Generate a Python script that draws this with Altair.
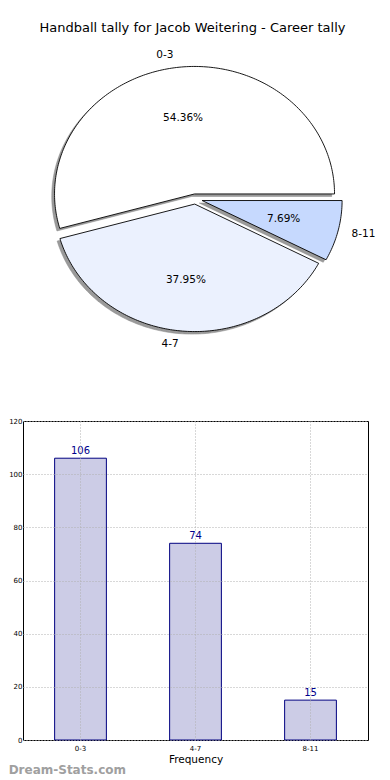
import math
import altair as alt
import pandas as pd

# ---------------- data ----------------
labels = ["0-3", "4-7", "8-11"]
counts = [106, 74, 15]
explode = [0.04, 0.04, 0.05]
pie_colors = ["#ffffff", "#ebf1fe", "#c6d9fe"]
title_text = "Handball tally for Jacob Weitering - Career tally"

FONT = "DejaVu Sans"
total = sum(counts)

# ---------------- pie geometry (unit circle, matplotlib-style, CCW from east) ----------------
poly_rows, shadow_rows, pct_rows, lab_rows = [], [], [], []
start = 0.0
for i, (lab, c, ex) in enumerate(zip(labels, counts, explode)):
    a0 = start
    a1 = start + 360.0 * c / total
    start = a1
    mid = math.radians((a0 + a1) / 2)
    cx, cy = ex * math.cos(mid), ex * math.sin(mid)
    n = max(int(a1 - a0), 2)
    pts = [(cx, cy)]
    for k in range(n + 1):
        t = math.radians(a0 + (a1 - a0) * k / n)
        pts.append((cx + math.cos(t), cy + math.sin(t)))
    pts.append((cx, cy))
    for j, (px, py) in enumerate(pts):
        poly_rows.append({"slice": lab, "i": j, "x": px, "y": py})
        shadow_rows.append({"slice": lab, "i": j, "x": px - 0.02, "y": py - 0.02})
    pct_rows.append({"slice": lab, "x": cx + 0.6 * math.cos(mid), "y": cy + 0.6 * math.sin(mid),
                     "txt": f"{100.0 * c / total:.2f}%"})
    lx, ly = cx + 1.1 * math.cos(mid), cy + 1.1 * math.sin(mid)
    lab_rows.append({"slice": lab, "x": lx, "y": ly, "side": "left" if lx > 0 else "right"})

poly = pd.DataFrame(poly_rows)
shadow = pd.DataFrame(shadow_rows)
pct = pd.DataFrame(pct_rows)
labdf = pd.DataFrame(lab_rows)

# ---------------- layout ----------------
W = 345
PIE_H = 320
BAR_H = 319
RX, RY = 140.0, 127.5
CX_PX, CY_PX = 172.3, 160.0   # pie centre within the pie panel
xdom = [-CX_PX / RX, (W - CX_PX) / RX]
ydom = [-(PIE_H - CY_PX) / RY, CY_PX / RY]

xs = alt.Scale(domain=xdom, nice=False, zero=False)
ys = alt.Scale(domain=ydom, nice=False, zero=False)
X = lambda: alt.X("x:Q", scale=xs, axis=None)
Y = lambda: alt.Y("y:Q", scale=ys, axis=None)

shadow_layer = alt.Chart(shadow).mark_line(
    fill="#9a9a9a", stroke="#8a8a8a", strokeWidth=0.5
).encode(x=X(), y=Y(), order="i:Q", detail="slice:N")

slice_layers = []
for lab, col in zip(labels, pie_colors):
    slice_layers.append(
        alt.Chart(poly).transform_filter(alt.datum.slice == lab).mark_line(
            fill=col, stroke="black", strokeWidth=0.9, strokeJoin="miter"
        ).encode(x=X(), y=Y(), order="i:Q")
    )

pct_layer = alt.Chart(pct).mark_text(
    font=FONT, fontSize=10.5, color="black", align="center", baseline="middle"
).encode(x=X(), y=Y(), text="txt:N")

lab_left = alt.Chart(labdf).transform_filter(alt.datum.side == "left").mark_text(
    font=FONT, fontSize=10.5, color="black", align="left", baseline="middle"
).encode(x=X(), y=Y(), text="slice:N")
lab_right = alt.Chart(labdf).transform_filter(alt.datum.side == "right").mark_text(
    font=FONT, fontSize=10.5, color="black", align="right", baseline="middle"
).encode(x=X(), y=Y(), text="slice:N")

pie = alt.layer(shadow_layer, *slice_layers, pct_layer, lab_left, lab_right).properties(
    width=W, height=PIE_H,
    title=alt.TitleParams(title_text, font=FONT, fontSize=13, fontWeight="normal",
                          color="black", offset=4, anchor="middle", dx=-3),
    view=alt.ViewBackground(stroke="transparent"),
)

# ---------------- bar chart ----------------
bars_df = pd.DataFrame({"label": labels, "count": counts})

bx = alt.X("label:N", sort=labels, title="Frequency",
           scale=alt.Scale(paddingInner=0, paddingOuter=0),
           axis=alt.Axis(labelAngle=0, labelFont=FONT, labelFontSize=7, labelColor="black",
                         titleFont=FONT, titleFontSize=10.5, titleFontWeight="normal",
                         titleColor="black", titlePadding=3, ticks=False, domain=False,
                         labelPadding=4, bandPosition=0.5, grid=True, gridColor="#b0b0b0",
                         gridDash=[1, 2], gridWidth=1, zindex=1))
by = alt.Y("count:Q", title=None,
           scale=alt.Scale(domain=[0, 120], nice=False),
           axis=alt.Axis(values=[0, 20, 40, 60, 80, 100, 120], labelFont=FONT, labelFontSize=7,
                         labelColor="black", ticks=False, domain=False, labelPadding=1,
                         grid=True, gridColor="#b0b0b0", gridDash=[1, 2], gridWidth=1, zindex=1))

bar_marks = alt.Chart(bars_df).mark_bar(
    fill="#ccccE6", stroke="#000080", strokeWidth=1, width=alt.RelativeBandSize(0.45)
).encode(x=bx, y=by)

bar_text = alt.Chart(bars_df).mark_text(
    font=FONT, fontSize=10, color="#00008b", baseline="bottom", dy=-2
).encode(x=alt.X("label:N", sort=labels), y=alt.Y("count:Q"), text="count:Q")

bar = alt.layer(bar_marks, bar_text).properties(
    width=W, height=BAR_H,
    title=alt.TitleParams("Dream-Stats.com", orient="bottom", anchor="start", frame="bounds",
                          font=FONT, fontSize=12, fontWeight="bold", color="#a0a0a0", offset=0),
    view=alt.ViewBackground(stroke="black", strokeWidth=1),
)

chart = alt.vconcat(pie, bar, spacing=56).properties(
    padding={"left": 0, "top": 13, "right": 0, "bottom": 0}
).configure(font=FONT)

chart.save("out.html", embed_options={"renderer": "svg", "actions": False})
